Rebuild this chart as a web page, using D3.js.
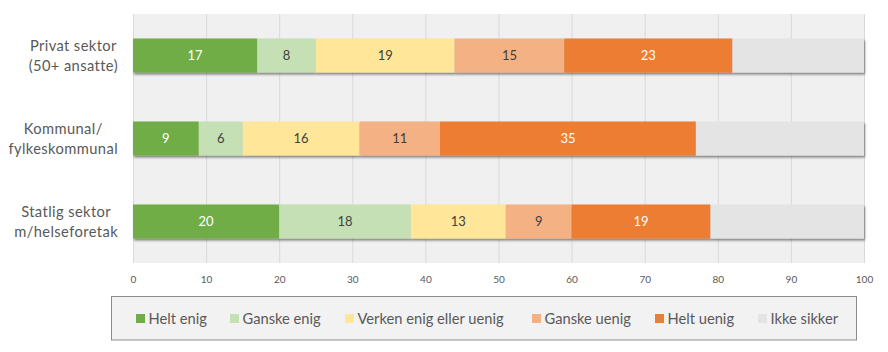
<!DOCTYPE html>
<html><head><meta charset="utf-8">
<script src="https://cdn.jsdelivr.net/npm/d3@7"></script>
<style>body{margin:0;background:#fff;font-family:Lato,"Open Sans",sans-serif;}</style>
</head><body>
<svg id="c" width="888" height="352"></svg>
<script>
const categories = [["Privat sektor","(50+ ansatte)"],["Kommunal/","fylkeskommunal"],["Statlig sektor","m/helseforetak"]];
const seriesNames = ["Helt enig","Ganske enig","Verken enig eller uenig","Ganske uenig","Helt uenig","Ikke sikker"];
const heltEnig = [17, 9, 20];
const ganskeEnig = [8, 6, 18];
const verken = [19, 16, 13];
const ganskeUenig = [15, 11, 9];
const heltUenig = [23, 35, 19];
const ikkeSikker = [18, 23, 21];
const xTicks = [0,10,20,30,40,50,60,70,80,90,100];
const colors = ["#70ad47","#c5e0b4","#ffe699","#f4b183","#ed7d31","#e4e4e4"];
const labelColors = ["#ffffff","#404040","#404040","#404040","#ffffff",null];

const series = [heltEnig, ganskeEnig, verken, ganskeUenig, heltUenig, ikkeSikker];
const svg = d3.select("#c");
const defs = svg.append("defs");
const f = defs.append("filter").attr("id","sh").attr("x","-5%").attr("y","-30%").attr("width","110%").attr("height","170%");
f.append("feDropShadow").attr("dx",1).attr("dy",2).attr("stdDeviation",1.2).attr("flood-color","#000").attr("flood-opacity",0.45);

const x = d3.scaleLinear().domain([0,100]).range([133,864]);
const y = d3.scaleBand().domain(d3.range(categories.length)).range([14,263]).paddingInner(0.59).paddingOuter(0.295);

svg.append("rect").attr("x",x(0)).attr("y",14).attr("width",x(100)-x(0)).attr("height",249).attr("fill","#f0f0f0");

const ax = svg.append("g").attr("transform","translate(0,14)")
  .call(d3.axisBottom(x).tickValues(xTicks).tickSize(249).tickPadding(0));
ax.select(".domain").remove();
ax.selectAll(".tick line").attr("stroke","#d9d9d9").attr("stroke-width",1);
ax.selectAll(".tick text").attr("fill","#595959").attr("font-size","10px").attr("dy","1.2em").attr("font-family","Lato, sans-serif")
  .attr("y",257);

categories.forEach((cat,i)=>{
  const g = svg.append("g");
  const row = series.map(s=>s[i]);
  let acc = 0;
  const segs = row.map((v,k)=>{const s={k,v,x0:acc}; acc+=v; return s;});
  g.append("g").attr("filter","url(#sh)").selectAll("rect").data(segs).join("rect")
    .attr("x",d=>x(d.x0)).attr("y",y(i)).attr("width",d=>x(d.x0+d.v)-x(d.x0)).attr("height",y.bandwidth())
    .attr("fill",d=>colors[d.k]);
  g.selectAll("text.lbl").data(segs.filter(d=>labelColors[d.k])).join("text")
    .attr("x",d=>x(d.x0+d.v/2)).attr("y",y(i)+y.bandwidth()/2).attr("dy","0.36em")
    .attr("text-anchor","middle").attr("font-size","13px").attr("fill",d=>labelColors[d.k]).text(d=>d.v);
  const t = svg.append("text").attr("text-anchor","middle").attr("fill","#595959").attr("font-size","14.7px").attr("letter-spacing","0.4px");
  const spans = cat.map((line,j)=> t.append("tspan").attr("x",0).attr("y",y(i)+y.bandwidth()/2 + (j-0.5)*19.5).attr("dy","0.36em").text(line));
  const maxW = d3.max(spans, s=>s.node().getComputedTextLength());
  spans.forEach(s=>s.attr("x",118 - maxW/2));
});

// legend
svg.append("rect").attr("x",111.5).attr("y",296.5).attr("width",745).attr("height",43.5).attr("fill","#f2f2f2").attr("stroke","#8c8c8c");
const legX = [136,230,345,532,655,758];
seriesNames.forEach((n,k)=>{
  svg.append("rect").attr("x",legX[k]).attr("y",314).attr("width",9).attr("height",9).attr("fill",colors[k]);
  svg.append("text").attr("x",legX[k]+12.5).attr("y",318.5).attr("dy","0.36em").attr("font-size","14.7px").attr("fill","#595959").text(n);
});
</script>
</body></html>
